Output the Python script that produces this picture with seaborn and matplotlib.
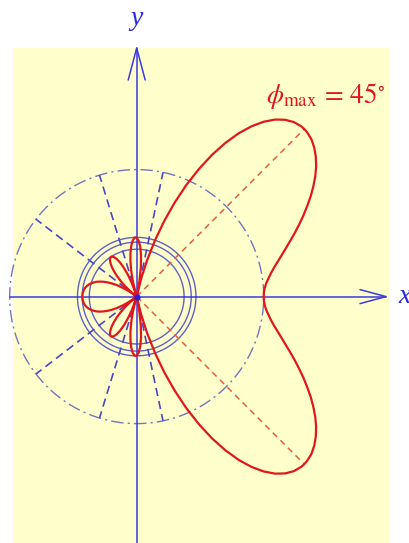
import numpy as np
import pandas as pd
import matplotlib
matplotlib.use("Agg")
import matplotlib.pyplot as plt
from matplotlib.patches import Rectangle
import seaborn as sns

# Normalised field pattern |E(phi)|, upper half-plane (the pattern is
# symmetric about the x axis).
angle_deg = list(range(0, 181, 2))
field = [0.536, 0.537, 0.542, 0.550, 0.562, 0.576, 0.593, 0.614, 0.637, 0.662,
         0.690, 0.720, 0.751, 0.783, 0.815, 0.848, 0.879, 0.909, 0.936, 0.959,
         0.978, 0.992, 0.999, 0.999, 0.991, 0.974, 0.948, 0.912, 0.867, 0.813,
         0.749, 0.678, 0.599, 0.516, 0.428, 0.339, 0.249, 0.162, 0.079, 0.002,
         0.067, 0.126, 0.175, 0.212, 0.236, 0.248, 0.249, 0.238, 0.217, 0.188,
         0.152, 0.112, 0.068, 0.023, 0.021, 0.063, 0.100, 0.133, 0.160, 0.180,
         0.193, 0.199, 0.199, 0.192, 0.180, 0.163, 0.142, 0.118, 0.091, 0.064,
         0.035, 0.006, 0.021, 0.048, 0.073, 0.097, 0.118, 0.137, 0.154, 0.169,
         0.182, 0.192, 0.201, 0.209, 0.215, 0.220, 0.224, 0.226, 0.228, 0.229,
         0.230]

# Main-beam direction, null directions and side-lobe peaks
phi_max = 45
null_deg = [78.05, 107.03, 142.47]
lobe_deg = [91.06, 122.88, 180.0]
lobe_level = [0.250, 0.200, 0.230]

# Unit = peak field; pixels per unit and origin position on the canvas
PX = 237.0
CX, CY = 136.7, 296.6


def ux(p):
    return (p - CX) / PX


def uy(p):
    return (CY - p) / PX


sns.set_theme(style="white")
plt.rcParams["mathtext.fontset"] = "stix"

BLUE = "#3a3ae0"
RING = "#6060c8"
RED = "#e0171d"

fig = plt.figure(figsize=(4.1, 5.43), dpi=100)
ax = fig.add_axes([0, 0, 1, 1])
ax.set_xlim(ux(0), ux(410))
ax.set_ylim(uy(543), uy(0))
ax.axis("off")

# pale yellow drawing area
ax.add_patch(Rectangle((ux(13), uy(560)), ux(389) - ux(13), uy(48) - uy(560),
                       fc="#FFFFCC", ec="none", zorder=0))

# assemble the full closed pattern
half = pd.DataFrame({"phi": angle_deg, "r": field})
extra = pd.DataFrame({"phi": [phi_max] + null_deg + lobe_deg,
                      "r": [1.0] + [0.0] * len(null_deg) + lobe_level})
half = (pd.concat([half, extra]).drop_duplicates("phi", keep="last")
        .sort_values("phi").reset_index(drop=True))
lower = half.iloc[::-1].copy()
lower["phi"] = 360 - lower["phi"]
pat = pd.concat([half, lower.iloc[1:]], ignore_index=True)
t = np.radians(pat["phi"])
pat["x"] = pat["r"] * np.cos(t)
pat["y"] = pat["r"] * np.sin(t)

r0 = field[0]
th = np.linspace(0, 2 * np.pi, 400)

# reference circle through the on-axis value
ax.plot(r0 * np.cos(th), r0 * np.sin(th), color="#7474c0", lw=1.0,
        dashes=(9, 3, 1.5, 3), zorder=2)

# side-lobe level circles
for lv in lobe_level:
    ax.plot(lv * np.cos(th), lv * np.sin(th), color=RING, lw=1.0, zorder=2)

# null directions
for d in null_deg:
    for s in (1, -1):
        a = np.radians(s * d)
        ax.plot([0, r0 * np.cos(a)], [0, r0 * np.sin(a)], color="#4848c4",
                lw=1.2, dashes=(5, 3), zorder=3)

# coordinate axes with open arrowheads
ax.plot([ux(10), ux(386)], [0, 0], color=BLUE, lw=1.1, zorder=3)
ax.plot([0, 0], [uy(560), uy(48)], color=BLUE, lw=1.1, zorder=3)
ax.plot([ux(360), ux(386), ux(360)], [uy(CY - 7), 0, uy(CY + 7)],
        color=BLUE, lw=1.1, zorder=3)
ax.plot([ux(CX - 8.5), 0, ux(CX + 8.5)], [uy(80), uy(48), uy(80)],
        color=BLUE, lw=1.1, zorder=3)

# main-beam directions
for s in (1, -1):
    a = np.radians(s * phi_max)
    ax.plot([0, np.cos(a)], [0, np.sin(a)], color="#e2603e", lw=1.1,
            dashes=(4, 3), zorder=4)

sns.lineplot(data=pat, x="x", y="y", sort=False, estimator=None,
             color=RED, lw=1.6, ax=ax, zorder=5)
ax.plot([0], [0], "o", ms=3.5, color="#2222dd", zorder=6)

ax.text(ux(405), 0.0, "x", family="Liberation Serif", style="italic",
        color="#2a2ae0", fontsize=20, ha="center", va="center")
ax.text(0.0, uy(19), "y", family="Liberation Serif", style="italic",
        color="#2a2ae0", fontsize=20, ha="center", va="center")
ax.text(ux(266), uy(103), r"$\phi_{\max}\,=\,45^{\circ}$", color=RED,
        fontsize=19.5, ha="left", va="baseline")

fig.savefig("out.png", dpi=100)
